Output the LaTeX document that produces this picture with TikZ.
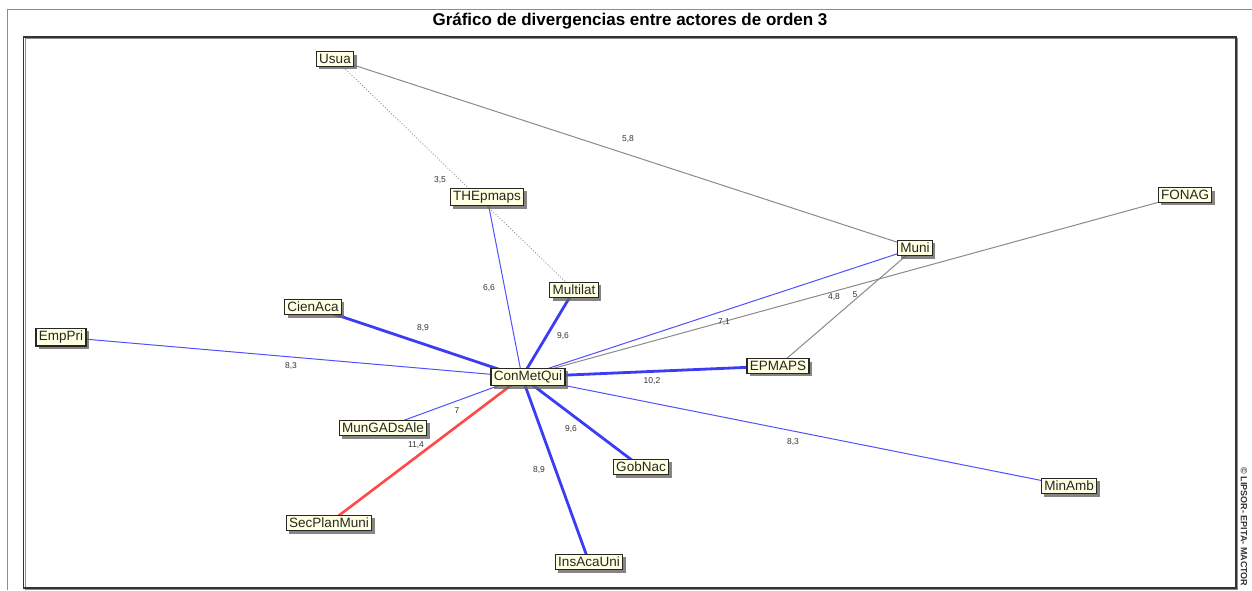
\documentclass[tikz,border=0pt]{standalone}
\usepackage{fontspec}
\setmainfont{Liberation Sans}
\usetikzlibrary{shadows,backgrounds}
\definecolor{nodefill}{HTML}{FFFFE1}
\definecolor{linkblue}{HTML}{5050FF}
\definecolor{strongblue}{HTML}{3C3CF5}
\definecolor{linkred}{HTML}{FF4848}
\definecolor{linkgray}{HTML}{8A8A8A}
\tikzset{
  actor/.style={draw=black!85, line width=1.2pt, fill=nodefill, inner xsep=2.8pt, inner ysep=2.6pt,
    font=\fontsize{13.5}{14}\selectfont, text=black!85,
    drop shadow={shadow xshift=3pt, shadow yshift=-3pt, fill=black!60, opacity=0.8}},
  val/.style={font=\fontsize{8.5}{9}\selectfont, text=black!80, inner sep=0.5pt},
  thinblue/.style={draw=linkblue, line width=1pt},
  thickblue/.style={draw=strongblue, line width=2.8pt},
  thickred/.style={draw=linkred, line width=2.6pt},
  thingray/.style={draw=linkgray, line width=1pt},
  dotgray/.style={draw=black!45, line width=0.9pt, dotted},
}
\begin{document}
\begin{tikzpicture}[x=1pt,y=-1pt]
\useasboundingbox (0,0) rectangle (1252,590);
% frames
\draw[black!45, line width=1.8pt] (7.5,590) -- (7.5,9.5) -- (1252,9.5);
\draw[black!45, line width=1pt] (25,38.5) -- (1237.5,38.5) -- (1237.5,589.5) -- (25,589.5) -- cycle;
\draw[black!80, line width=1.2pt] (23.5,37) rectangle (1236,588);
\node[font=\fontsize{17}{18}\selectfont\bfseries] (title) at (630,21) {Gráfico de divergencias entre actores de orden 3};
\node[font=\fontsize{9}{10}\selectfont\bfseries, rotate=-90, anchor=west, text=black!80] (copy) at (1244,464) {© LIPSOR- EPITA- MACTOR};

% actors
\node[actor] (Usua) at (335,59) {Usua};
\node[actor] (THEpmaps) at (487,197) {THEpmaps};
\node[actor] (Multilat) at (574,290) {Multilat};
\node[actor] (CienAca) at (313,307) {CienAca};
\node[actor] (EmpPri) at (61,337) {EmpPri};
\node[actor] (ConMetQui) at (528,377) {ConMetQui};
\node[actor] (EPMAPS) at (778,366) {EPMAPS};
\node[actor] (MunGADsAle) at (383,428) {MunGADsAle};
\node[actor] (GobNac) at (641,467) {GobNac};
\node[actor] (SecPlanMuni) at (329,523) {SecPlanMuni};
\node[actor] (InsAcaUni) at (589,562) {InsAcaUni};
\node[actor] (MinAmb) at (1069,486) {MinAmb};
\node[actor] (Muni) at (915,248) {Muni};
\node[actor] (FONAG) at (1185,195) {FONAG};

\begin{scope}[on background layer]
\coordinate (hub) at (522,377);
\path[thingray] (Usua.center) -- (Muni.center);
\path[dotgray] (Usua.center) -- (Multilat.center);
\path[thinblue] (THEpmaps.center) -- (hub);
\path[thickblue] (Multilat.center) -- (hub);
\path[thickblue] (CienAca.center) -- (hub);
\path[thinblue] (EmpPri.center) -- (hub);
\path[thinblue] (Muni.center) -- (hub);
\path[thingray] (FONAG.center) -- (hub);
\path[thingray] (Muni.center) -- (EPMAPS.center);
\path[thickblue] (EPMAPS.center) -- (hub);
\path[thinblue] (MunGADsAle.center) -- (hub);
\path[thickred] (SecPlanMuni.center) -- (hub);
\path[thickblue] (GobNac.center) -- (hub);
\path[thickblue] (InsAcaUni.center) -- (hub);
\path[thinblue] (MinAmb.center) -- (hub);
% values
\node[val] (v1) at (628,139) {5,8};
\node[val] (v2) at (440,180) {3,5};
\node[val] (v3) at (489,288) {6,6};
\node[val] (v4) at (563,336) {9,6};
\node[val] (v5) at (423,328) {8,9};
\node[val] (v6) at (291,366) {8,3};
\node[val] (v7) at (724,322) {7,1};
\node[val] (v8) at (834,297) {4,8};
\node[val] (v9) at (855,295) {5};
\node[val] (v10) at (652,381) {10,2};
\node[val] (v11) at (457,411) {7};
\node[val] (v12) at (416,445) {11,4};
\node[val] (v13) at (571,429) {9,6};
\node[val] (v14) at (539,470) {8,9};
\node[val] (v15) at (793,442) {8,3};
\end{scope}
\end{tikzpicture}
\end{document}
